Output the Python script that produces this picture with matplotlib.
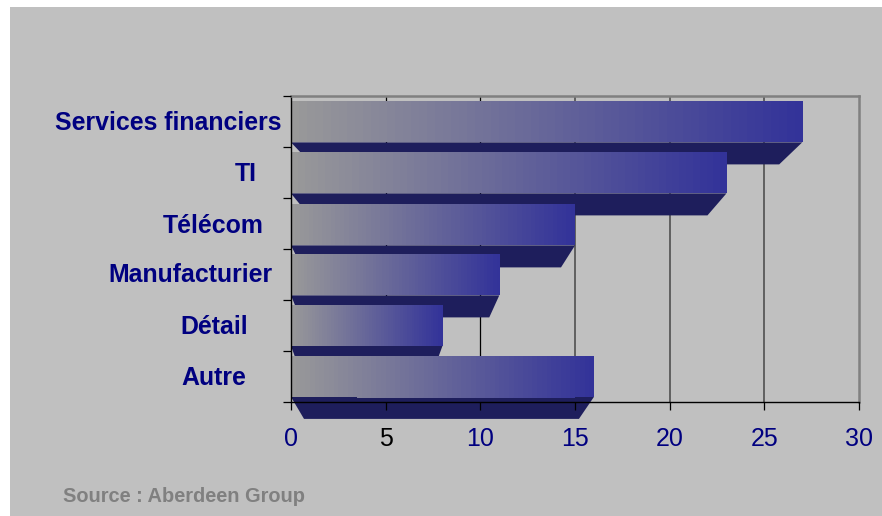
import matplotlib
matplotlib.use("Agg")
import matplotlib.pyplot as plt
from matplotlib.patches import Polygon, Rectangle
import numpy as np

plt.rcParams['font.family'] = ['Liberation Sans', 'DejaVu Sans']

# Data
categories = ['Services financiers', 'TI', 'Télécom', 'Manufacturier', 'Détail', 'Autre']
values = [27, 23, 15, 11, 8, 16]
xticks = [0, 5, 10, 15, 20, 25, 30]
xtick_colors = ['#000080', '#000000', '#000080', '#000080', '#000080', '#000080', '#000080']

W, H = 882, 516
NAVY = '#000080'
GREY_BG = '#C0C0C0'
BOTTOM_FACE = '#1E1E5C'

# Look of the fake 3D bars, in pixels
label_right_px = [281.5, 256.5, 264, 273, 248, 246]
label_y_px = [123, 174, 226, 275, 327, 378]
shear_left_px = [21, 18, 11, 9, 8, 13]
shear_right_px = [23, 19, 14, 10, 8, 15]
bar_nudge_px = [0.5, 0.5, 1.5, 0.5, 0, 0]
depth_px = 22
# the gradient sticks out one pixel on some bars: (edge, where it starts on the x scale)
ridges = [('top', 6.3), None, ('top', 3.0), None, None, ('bottom', 3.7)]

fig = plt.figure(figsize=(W / 100, H / 100), dpi=100, facecolor='white')
fig.patches.append(Rectangle((10 / W, 0), 1 - 10 / W, 1 - 7 / H, transform=fig.transFigure,
                             facecolor=GREY_BG, edgecolor='none', zorder=-1))

# Axes box: x 291..859, y 96..402
ax = fig.add_axes([291 / W, 1 - 402 / H, (859 - 291) / W, (402 - 96) / H])
ax.patch.set_alpha(0)
ax.set_xlim(0, 30)
ax.set_ylim(5.5, -0.5)
px_x = 30 / (859 - 291)
px_y = 6 / (402 - 96)

for t in xticks[1:-1]:
    ax.axvline(t, color='#000000' if t <= 10 else '#606060', lw=0.9 if t <= 10 else 1.4, zorder=1)

# Grey to blue gradient for the front of the bars
n_bands = 64
c0 = np.array([0x99, 0x99, 0x99]) / 255
c1 = np.array([0x33, 0x33, 0x99]) / 255
fade = np.linspace(0, 1, n_bands)[:, None]
gradient = (c0 + (c1 - c0) * fade)[None, :, :]

bar_h = 0.8
for i, v in enumerate(values):
    nudge = bar_nudge_px[i] * px_y
    top = i - bar_h / 2 + nudge
    bottom = i + bar_h / 2 + nudge
    dl = shear_left_px[i] * px_x
    dr = shear_right_px[i] * px_x
    z = 2 + i * 0.01
    # underside first, next bar's front covers it
    ax.add_patch(Polygon([(0, bottom), (v, bottom), (v - dr, bottom + depth_px * px_y),
                          (dl, bottom + depth_px * px_y)],
                         facecolor=BOTTOM_FACE, edgecolor='none', zorder=z, clip_on=False))
    ax.imshow(gradient, extent=(0, v, bottom, top), aspect='auto',
              interpolation='nearest', zorder=z + 0.005, clip_on=False)
    if ridges[i]:
        edge, start = ridges[i]
        a = int(start / v * n_bands)
        b = int((v - dr) / v * n_bands)
        y0, y1 = (top - px_y, top) if edge == 'top' else (bottom, bottom + px_y)
        ax.imshow(gradient[:, a:b], extent=(a / n_bands * v, b / n_bands * v, y1, y0), aspect='auto',
                  interpolation='nearest', zorder=z + 0.006, clip_on=False)

ax.set_xlim(0, 30)
ax.set_ylim(5.5, -0.5)
ax.set_axisbelow(False)

for side in ['top', 'right']:
    ax.spines[side].set_color('#808080')
    ax.spines[side].set_linewidth(1.8)
for side in ['left', 'bottom']:
    ax.spines[side].set_color('#000000')
    ax.spines[side].set_linewidth(1.0)

ax.set_xticks(xticks)
ax.set_yticks(np.arange(-0.5, 6, 1))
ax.set_yticklabels([])
ax.tick_params(axis='y', length=5.8, width=0.9, color='black')
ax.tick_params(axis='x', length=5.8, width=0.9, color='black', pad=12.5, labelsize=18)
for lab, col in zip(ax.get_xticklabels(), xtick_colors):
    lab.set_color(col)

for i, name in enumerate(categories):
    fig.text(label_right_px[i] / W, 1 - label_y_px[i] / H, name, ha='right', va='center',
             fontsize=17.95, fontweight='bold', color=NAVY)

fig.text(63 / W, 1 - 497 / H, 'Source : Aberdeen Group', ha='left', va='center',
         fontsize=14.45, fontweight='bold', color='#808080')

fig.savefig('out.png', dpi=100, facecolor=fig.get_facecolor())
